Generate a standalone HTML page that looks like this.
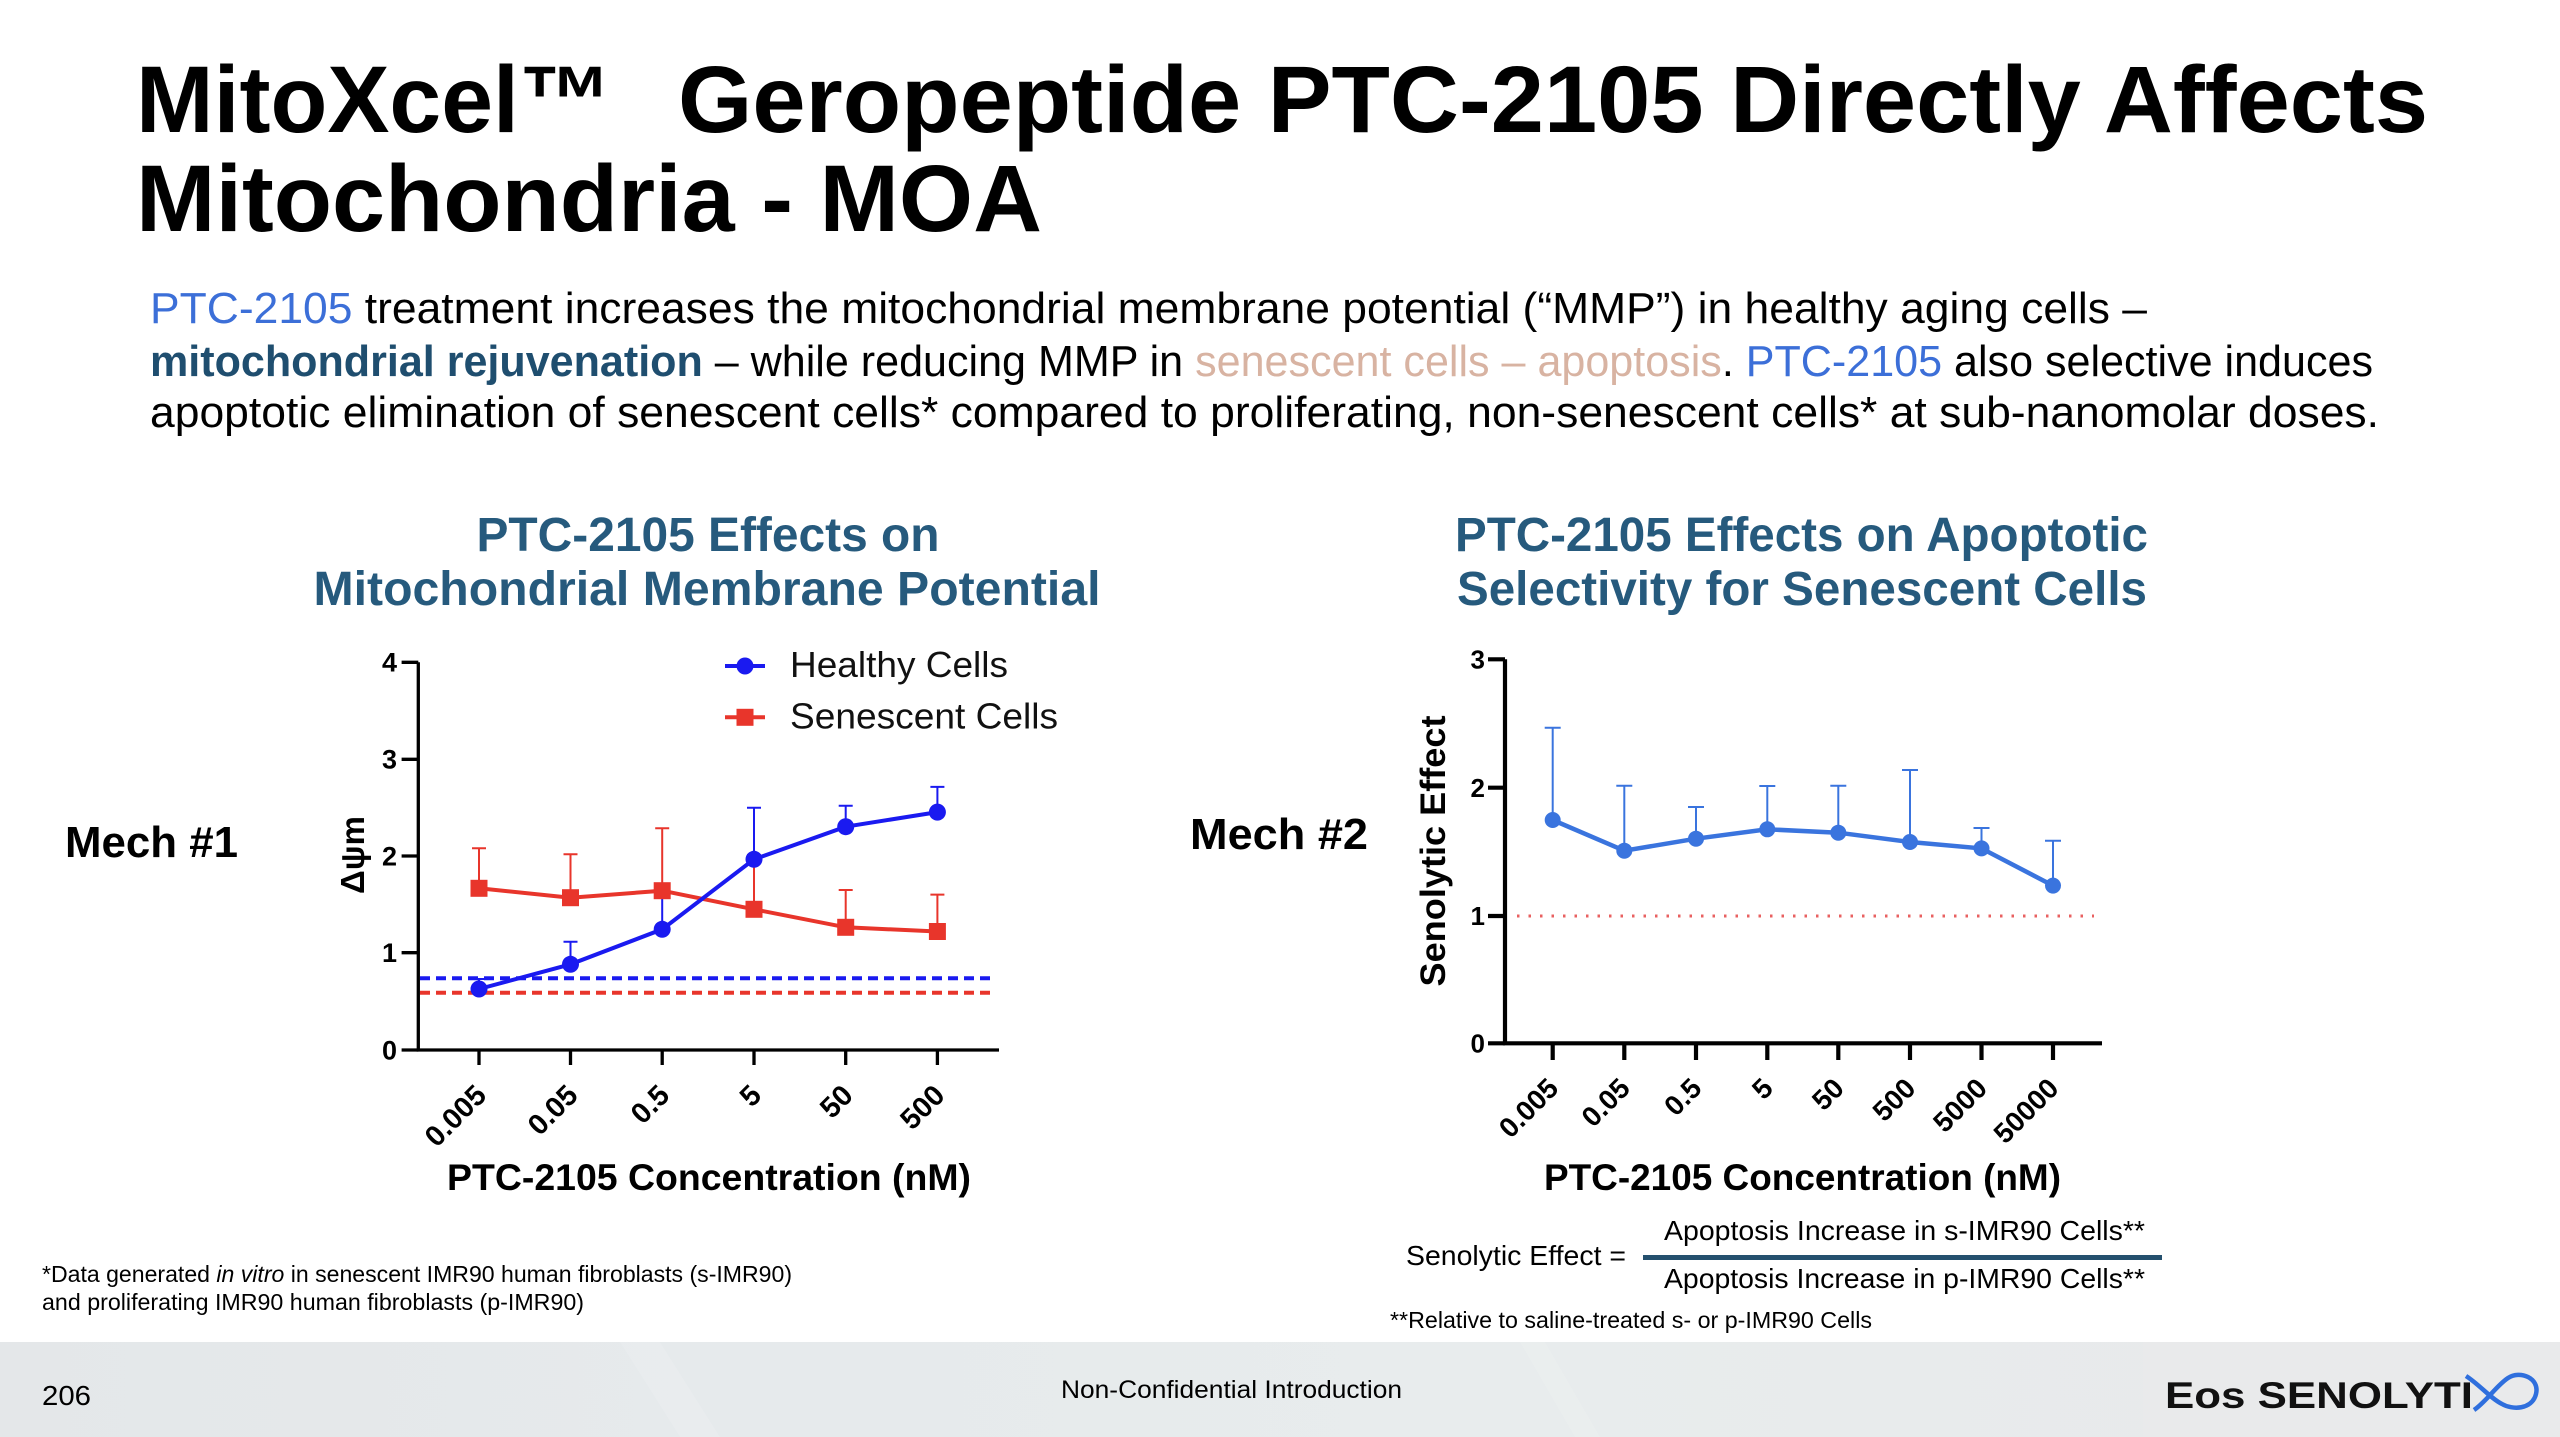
<!DOCTYPE html>
<html><head><meta charset="utf-8">
<style>
html,body{margin:0;padding:0;background:#fff;}
body{width:2560px;height:1437px;overflow:hidden;position:relative;}
svg{position:absolute;left:0;top:0;}
text{font-family:"Liberation Sans",Arial,sans-serif;}
</style></head>
<body>
<svg width="2560" height="1437" viewBox="0 0 2560 1437" xmlns="http://www.w3.org/2000/svg">
<defs>
<linearGradient id="fg" x1="0" y1="0" x2="1" y2="0">
<stop offset="0" stop-color="#e4e7e9"/><stop offset="0.3" stop-color="#e6eaec"/><stop offset="0.6" stop-color="#e8eced"/><stop offset="1" stop-color="#e7e9ea"/>
</linearGradient>
</defs>
<!-- Footer band -->
<rect x="0" y="1342" width="2560" height="95" fill="url(#fg)"/>
<polygon points="620,1342 660,1342 720,1437 680,1437" fill="#edf2f3" opacity="0.35"/>
<polygon points="1520,1342 1545,1342 1600,1437 1575,1437" fill="#edf2f3" opacity="0.3"/>
<rect x="2143" y="1342" width="417" height="95" fill="#e9eaeb"/>

<!-- Title -->
<text x="136" y="132" font-size="95" font-weight="bold" fill="#000" textLength="476" lengthAdjust="spacingAndGlyphs">MitoXcel™</text>
<text x="678" y="132" font-size="95" font-weight="bold" fill="#000" textLength="1750" lengthAdjust="spacingAndGlyphs">Geropeptide PTC-2105 Directly Affects</text>
<text x="136" y="231" font-size="95" font-weight="bold" fill="#000" textLength="906" lengthAdjust="spacingAndGlyphs">Mitochondria - MOA</text>

<!-- Paragraph -->
<text x="150" y="323" font-size="44" fill="#000" textLength="1997" lengthAdjust="spacingAndGlyphs"><tspan fill="#3c6fd8">PTC-2105</tspan> treatment increases the mitochondrial membrane potential (“MMP”) in healthy aging cells –</text>
<text x="150" y="376" font-size="44" fill="#000" textLength="2223" lengthAdjust="spacingAndGlyphs"><tspan fill="#1f4e6f" font-weight="bold">mitochondrial rejuvenation</tspan> – while reducing MMP in <tspan fill="#d8b3a2">senescent cells – apoptosis</tspan>. <tspan fill="#3c6fd8">PTC-2105</tspan> also selective induces</text>
<text x="150" y="427" font-size="44" fill="#000" textLength="2229" lengthAdjust="spacingAndGlyphs">apoptotic elimination of senescent cells* compared to proliferating, non-senescent cells* at sub-nanomolar doses.</text>

<!-- Left chart title -->
<text x="708" y="551" font-size="48" font-weight="bold" fill="#265a7d" text-anchor="middle" textLength="463" lengthAdjust="spacingAndGlyphs">PTC-2105 Effects on</text>
<text x="707" y="605" font-size="48" font-weight="bold" fill="#265a7d" text-anchor="middle" textLength="787" lengthAdjust="spacingAndGlyphs">Mitochondrial Membrane Potential</text>

<!-- Right chart title -->
<text x="1455" y="551" font-size="48" font-weight="bold" fill="#265a7d" textLength="693" lengthAdjust="spacingAndGlyphs">PTC-2105 Effects on Apoptotic</text>
<text x="1457" y="605" font-size="48" font-weight="bold" fill="#265a7d" textLength="690" lengthAdjust="spacingAndGlyphs">Selectivity for Senescent Cells</text>

<!-- Mech labels -->
<text x="65" y="857" font-size="44" font-weight="bold" fill="#000" textLength="173" lengthAdjust="spacingAndGlyphs">Mech #1</text>
<text x="1190" y="849" font-size="44" font-weight="bold" fill="#000" textLength="178" lengthAdjust="spacingAndGlyphs">Mech #2</text>

<!-- ================= LEFT CHART ================= -->
<g>
<line x1="420" y1="978.3" x2="991" y2="978.3" stroke="#1a1af0" stroke-width="4" stroke-dasharray="10 6"/>
<line x1="420" y1="992.7" x2="991" y2="992.7" stroke="#e8352b" stroke-width="4" stroke-dasharray="10 6"/>
<path d="M418.3 662.3 V1050 H999" stroke="#000" stroke-width="3.3" fill="none"/>
<g stroke="#000" stroke-width="3.3">
<line x1="401.6" y1="662.3" x2="418.3" y2="662.3"/>
<line x1="401.6" y1="759.3" x2="418.3" y2="759.3"/>
<line x1="401.6" y1="856" x2="418.3" y2="856"/>
<line x1="401.6" y1="952.7" x2="418.3" y2="952.7"/>
<line x1="401.6" y1="1050" x2="418.3" y2="1050"/>
<line x1="479" y1="1050" x2="479" y2="1065"/>
<line x1="570.5" y1="1050" x2="570.5" y2="1065"/>
<line x1="662.2" y1="1050" x2="662.2" y2="1065"/>
<line x1="754" y1="1050" x2="754" y2="1065"/>
<line x1="845.7" y1="1050" x2="845.7" y2="1065"/>
<line x1="937.4" y1="1050" x2="937.4" y2="1065"/>
</g>
<g font-size="27" font-weight="bold" fill="#000" text-anchor="end">
<text x="397" y="671.5">4</text>
<text x="397" y="768.5">3</text>
<text x="397" y="865.5">2</text>
<text x="397" y="962">1</text>
<text x="397" y="1059.5">0</text>
</g>
<g font-size="29" font-weight="bold" fill="#000" text-anchor="end">
<text transform="translate(488,1097) rotate(-45)">0.005</text>
<text transform="translate(579.5,1097) rotate(-45)">0.05</text>
<text transform="translate(671.2,1097) rotate(-45)">0.5</text>
<text transform="translate(763,1097) rotate(-45)">5</text>
<text transform="translate(854.7,1097) rotate(-45)">50</text>
<text transform="translate(946.4,1097) rotate(-45)">500</text>
</g>
<text transform="translate(364,855) rotate(-90)" font-size="33" font-weight="bold" fill="#000" text-anchor="middle">Δψm</text>
<text x="447" y="1190" font-size="37" font-weight="bold" fill="#000" textLength="524" lengthAdjust="spacingAndGlyphs">PTC-2105 Concentration (nM)</text>

<g stroke="#e8352b" stroke-width="2" fill="none">
<path d="M479 888.3 V848.3 M472 848.3 H486"/>
<path d="M570.5 897.7 V854.3 M563.5 854.3 H577.5"/>
<path d="M662.2 890.7 V828.3 M655.2 828.3 H669.2"/>
<path d="M754 909.3 V855 M747 855 H761"/>
<path d="M845.7 927.3 V890 M838.7 890 H852.7"/>
<path d="M937.4 931.5 V894.6 M930.4 894.6 H944.4"/>
</g>
<g stroke="#1a1af0" stroke-width="2" fill="none">
<path d="M479 989 V979 M472 979 H486"/>
<path d="M570.5 964.3 V941.7 M563.5 941.7 H577.5"/>
<path d="M662.2 929.3 V889.3 M655.2 889.3 H669.2"/>
<path d="M754 859.3 V807.7 M747 807.7 H761"/>
<path d="M845.7 826.7 V805.7 M838.7 805.7 H852.7"/>
<path d="M937.4 812.1 V786.9 M930.4 786.9 H944.4"/>
</g>
<polyline points="479,888.3 570.5,897.7 662.2,890.7 754,909.3 845.7,927.3 937.4,931.5" stroke="#e8352b" stroke-width="4" fill="none"/>
<g fill="#e8352b">
<rect x="470.5" y="879.8" width="17" height="17"/>
<rect x="562" y="889.2" width="17" height="17"/>
<rect x="653.7" y="882.2" width="17" height="17"/>
<rect x="745.5" y="900.8" width="17" height="17"/>
<rect x="837.2" y="918.8" width="17" height="17"/>
<rect x="928.9" y="923" width="17" height="17"/>
</g>
<polyline points="479,989 570.5,964.3 662.2,929.3 754,859.3 845.7,826.7 937.4,812.1" stroke="#1a1af0" stroke-width="4" fill="none"/>
<g fill="#1a1af0">
<circle cx="479" cy="989" r="8.5"/>
<circle cx="570.5" cy="964.3" r="8.5"/>
<circle cx="662.2" cy="929.3" r="8.5"/>
<circle cx="754" cy="859.3" r="8.5"/>
<circle cx="845.7" cy="826.7" r="8.5"/>
<circle cx="937.4" cy="812.1" r="8.5"/>
</g>
<line x1="725" y1="666" x2="765" y2="666" stroke="#1a1af0" stroke-width="4"/>
<circle cx="745" cy="666" r="8.5" fill="#1a1af0"/>
<line x1="725" y1="717.3" x2="765" y2="717.3" stroke="#e8352b" stroke-width="4"/>
<rect x="736.5" y="708.8" width="17" height="17" fill="#e8352b"/>
<text x="790" y="677" font-size="36" fill="#111" textLength="218" lengthAdjust="spacingAndGlyphs">Healthy Cells</text>
<text x="790" y="728.5" font-size="36" fill="#111" textLength="268" lengthAdjust="spacingAndGlyphs">Senescent Cells</text>
</g>

<!-- ================= RIGHT CHART ================= -->
<g>
<line x1="1517" y1="916" x2="2094" y2="916" stroke="#e86060" stroke-width="3" stroke-dasharray="2.5 9"/>
<path d="M1505 659.3 V1043.3 H2102" stroke="#000" stroke-width="4.2" fill="none"/>
<g stroke="#000" stroke-width="4.2">
<line x1="1488" y1="659.3" x2="1505" y2="659.3"/>
<line x1="1488" y1="787.7" x2="1505" y2="787.7"/>
<line x1="1488" y1="916" x2="1505" y2="916"/>
<line x1="1488" y1="1043.3" x2="1505" y2="1043.3"/>
<line x1="1552.7" y1="1043" x2="1552.7" y2="1060"/>
<line x1="1624.3" y1="1043" x2="1624.3" y2="1060"/>
<line x1="1696" y1="1043" x2="1696" y2="1060"/>
<line x1="1767.3" y1="1043" x2="1767.3" y2="1060"/>
<line x1="1838.3" y1="1043" x2="1838.3" y2="1060"/>
<line x1="1910" y1="1043" x2="1910" y2="1060"/>
<line x1="1981.5" y1="1043" x2="1981.5" y2="1060"/>
<line x1="2053" y1="1043" x2="2053" y2="1060"/>
</g>
<g font-size="26" font-weight="bold" fill="#000" text-anchor="end">
<text x="1485" y="668.5">3</text>
<text x="1485" y="797">2</text>
<text x="1485" y="925">1</text>
<text x="1485" y="1052.5">0</text>
</g>
<g font-size="28" font-weight="bold" fill="#000" text-anchor="end">
<text transform="translate(1560,1090) rotate(-45)">0.005</text>
<text transform="translate(1631.6,1090) rotate(-45)">0.05</text>
<text transform="translate(1703.3,1090) rotate(-45)">0.5</text>
<text transform="translate(1774.6,1090) rotate(-45)">5</text>
<text transform="translate(1845.6,1090) rotate(-45)">50</text>
<text transform="translate(1917.3,1090) rotate(-45)">500</text>
<text transform="translate(1988.8,1090) rotate(-45)">5000</text>
<text transform="translate(2060.3,1090) rotate(-45)">50000</text>
</g>
<text transform="translate(1445,851) rotate(-90)" font-size="35" font-weight="bold" fill="#000" text-anchor="middle" textLength="271" lengthAdjust="spacingAndGlyphs">Senolytic Effect</text>
<text x="1544" y="1190" font-size="37" font-weight="bold" fill="#000" textLength="517" lengthAdjust="spacingAndGlyphs">PTC-2105 Concentration (nM)</text>

<g stroke="#3a74de" stroke-width="2" fill="none">
<path d="M1552.7 820 V727.7 M1544.7 727.7 H1560.7"/>
<path d="M1624.3 850.7 V785.7 M1616.3 785.7 H1632.3"/>
<path d="M1696 838.7 V807 M1688 807 H1704"/>
<path d="M1767.3 829.3 V786 M1759.3 786 H1775.3"/>
<path d="M1838.3 832.7 V785.7 M1830.3 785.7 H1846.3"/>
<path d="M1910 842 V770 M1902 770 H1918"/>
<path d="M1981.5 848.4 V828 M1973.5 828 H1989.5"/>
<path d="M2053 885.6 V840.8 M2045 840.8 H2061"/>
</g>
<polyline points="1552.7,820 1624.3,850.7 1696,838.7 1767.3,829.3 1838.3,832.7 1910,842 1981.5,848.4 2053,885.6" stroke="#3a74de" stroke-width="4.5" fill="none"/>
<g fill="#3a74de">
<circle cx="1552.7" cy="820" r="8"/>
<circle cx="1624.3" cy="850.7" r="8"/>
<circle cx="1696" cy="838.7" r="8"/>
<circle cx="1767.3" cy="829.3" r="8"/>
<circle cx="1838.3" cy="832.7" r="8"/>
<circle cx="1910" cy="842" r="8"/>
<circle cx="1981.5" cy="848.4" r="8"/>
<circle cx="2053" cy="885.6" r="8"/>
</g>
</g>

<!-- Formula -->
<text x="1406" y="1265" font-size="28" fill="#000" textLength="220" lengthAdjust="spacingAndGlyphs">Senolytic Effect =</text>
<rect x="1643" y="1255" width="519" height="5" fill="#24506e"/>
<text x="1664" y="1240" font-size="28" fill="#000" textLength="481" lengthAdjust="spacingAndGlyphs">Apoptosis Increase in s-IMR90 Cells**</text>
<text x="1664" y="1288" font-size="28" fill="#000" textLength="481" lengthAdjust="spacingAndGlyphs">Apoptosis Increase in p-IMR90 Cells**</text>
<text x="1390" y="1328" font-size="23" fill="#000" textLength="482" lengthAdjust="spacingAndGlyphs">**Relative to saline-treated s- or p-IMR90 Cells</text>

<!-- Footnote left -->
<text x="42" y="1282" font-size="23" fill="#000" textLength="750" lengthAdjust="spacingAndGlyphs">*Data generated <tspan font-style="italic">in vitro</tspan> in senescent IMR90 human fibroblasts (s-IMR90)</text>
<text x="42" y="1310" font-size="23" fill="#000" textLength="542" lengthAdjust="spacingAndGlyphs">and proliferating IMR90 human fibroblasts (p-IMR90)</text>

<!-- Footer text -->
<text x="42" y="1405" font-size="28" fill="#000" textLength="49" lengthAdjust="spacingAndGlyphs">206</text>
<text x="1061" y="1398" font-size="25" fill="#000" textLength="341" lengthAdjust="spacingAndGlyphs">Non-Confidential Introduction</text>

<!-- Logo -->
<text x="2165" y="1408" font-size="37" font-weight="bold" fill="#111" textLength="308" lengthAdjust="spacingAndGlyphs">Eos SENOLYTI</text>
<path d="M2466 1376 C2480 1385 2490 1398 2502 1404 C2512 1410 2532 1410 2536 1394 C2540 1378 2520 1370 2508 1378 C2496 1386 2486 1402 2474 1410" stroke="#2f6fdd" stroke-width="4.5" fill="none"/>
</svg>
</body></html>
